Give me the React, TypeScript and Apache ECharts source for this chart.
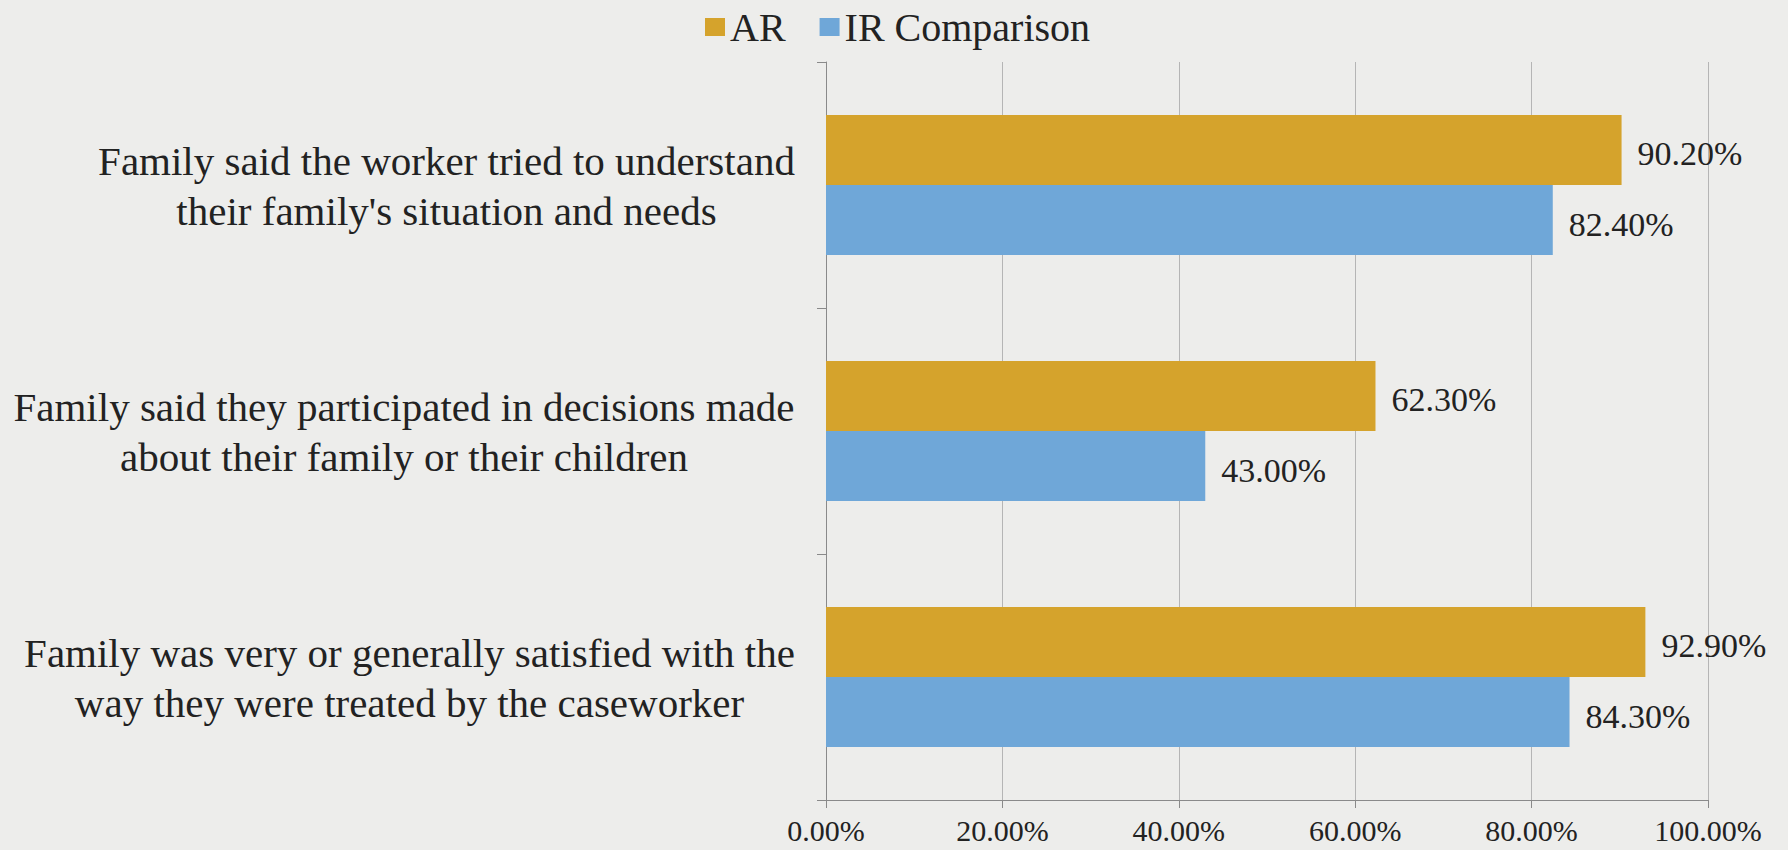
import React, { useEffect, useRef } from "react";
import * as echarts from "echarts";

const categories = [
  "Family said the worker tried to understand\ntheir family's situation and needs",
  "Family said they participated in decisions made\nabout their family or their children",
  "Family was very or generally satisfied with the\nway they were treated by the caseworker",
];
const seriesNames = ["AR", "IR Comparison"];
const arValues = [90.2, 62.3, 92.9];
const irValues = [82.4, 43.0, 84.3];
const xTicks = [0, 20, 40, 60, 80, 100];

const SERIF = "'Liberation Serif', 'Times New Roman', serif";
const CAT_FONT_SIZE = 41;

export default function App() {
  const ref = useRef<HTMLDivElement>(null);
  useEffect(() => {
    document.body.style.margin = "0";
    const chart = echarts.init(ref.current!, undefined, { renderer: "svg" });
    const ctx = document.createElement("canvas").getContext("2d")!;
    ctx.font = `${CAT_FONT_SIZE}px ${SERIF}`;
    const labelStyle = {
      show: true,
      position: "right" as const,
      distance: 16,
      offset: [0, 4],
      fontFamily: SERIF,
      fontSize: 34,
      color: "#222",
      formatter: (p: any) => p.value.toFixed(2) + "%",
    };
    chart.setOption({
      animation: false,
      backgroundColor: "#EDEDEB",
      legend: {
        left: 700,
        top: 2,
        itemWidth: 20,
        itemHeight: 18,
        itemGap: 34,
        icon: "rect",
        textStyle: { fontFamily: SERIF, fontSize: 40, color: "#222" },
        data: seriesNames,
      },
      grid: { left: 826, right: 80, top: 62, bottom: 50, containLabel: false },
      xAxis: {
        type: "value",
        min: 0,
        max: 100,
        interval: 20,
        axisLine: { show: true, lineStyle: { color: "#8a8a8a", width: 1 } },
        axisTick: { show: true, length: 8, lineStyle: { color: "#8a8a8a" } },
        splitLine: { show: true, lineStyle: { color: "#b5b5b5", width: 1 } },
        axisLabel: {
          margin: 15,
          fontFamily: SERIF,
          fontSize: 30,
          color: "#222",
          formatter: (v: number) => (xTicks.includes(v) ? v.toFixed(2) + "%" : ""),
        },
      },
      yAxis: {
        type: "category",
        inverse: true,
        data: categories,
        axisLine: { show: true, lineStyle: { color: "#8a8a8a", width: 1 } },
        axisTick: { show: true, length: 9, lineStyle: { color: "#8a8a8a" } },
        axisLabel: {
          margin: 31,
          align: "right",
          formatter: (v: string) => {
            const lines = v.split("\n");
            const w = Math.ceil(Math.max(...lines.map((l) => ctx.measureText(l).width)));
            return lines.map((l) => `{a${w}|${l}}`).join("\n");
          },
          rich: Object.fromEntries(
            categories.map((c) => {
              const lines = c.split("\n");
              const w = Math.ceil(Math.max(...lines.map((l) => ctx.measureText(l).width)));
              return [
                "a" + w,
                {
                  width: w,
                  align: "center",
                  fontFamily: SERIF,
                  fontSize: CAT_FONT_SIZE,
                  lineHeight: 50,
                  color: "#222",
                  padding: [2, 0, 0, 0],
                },
              ];
            })
          ),
        },
      },
      series: [
        {
          name: seriesNames[0],
          type: "bar",
          data: arValues,
          barGap: "0%",
          barCategoryGap: "43%",
          itemStyle: { color: "#D5A32C" },
          label: labelStyle,
        },
        {
          name: seriesNames[1],
          type: "bar",
          data: irValues,
          barGap: "0%",
          barCategoryGap: "43%",
          itemStyle: { color: "#6FA7D8" },
          label: labelStyle,
        },
      ],
    });
    return () => chart.dispose();
  }, []);
  return (
    <div
      ref={ref}
      style={{ position: "absolute", left: 0, top: 0, width: 1788, height: 850 }}
    />
  );
}
